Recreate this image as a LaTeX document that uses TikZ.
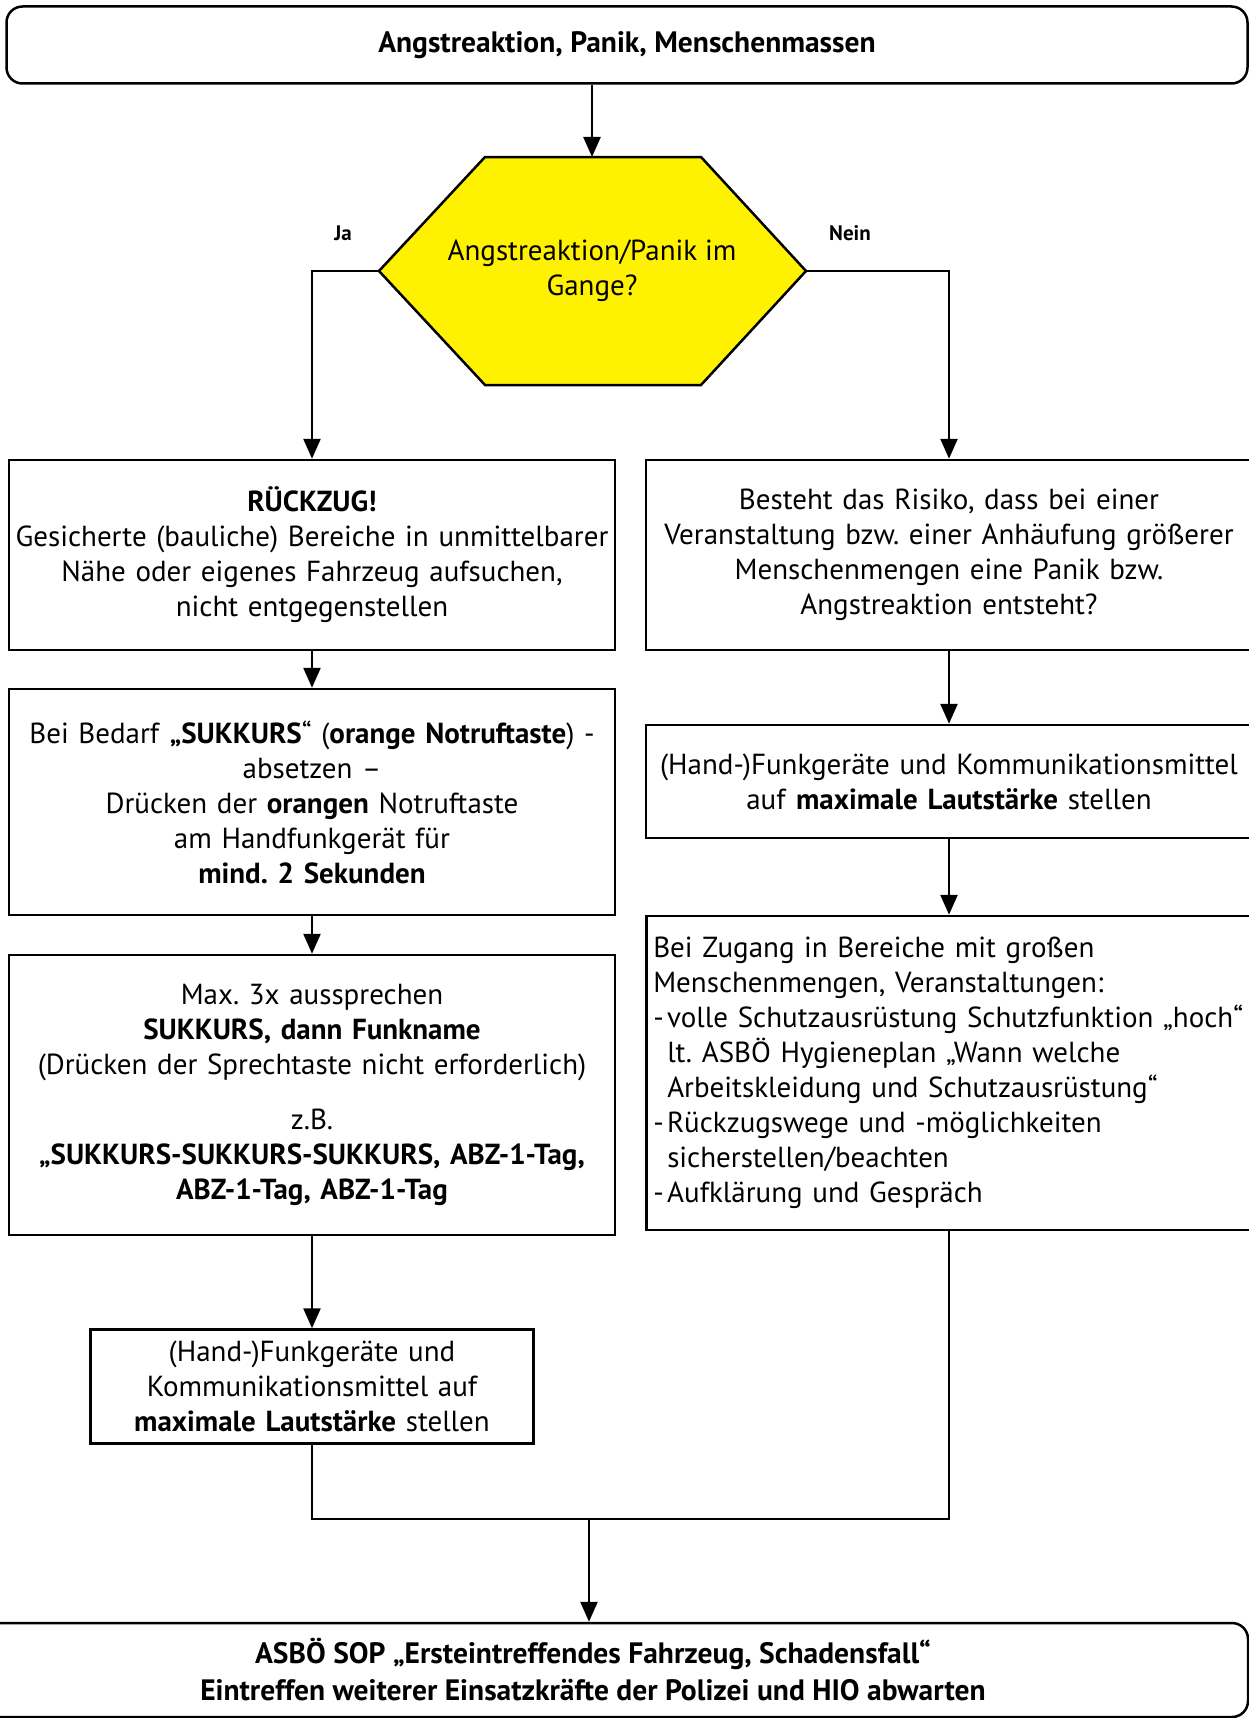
\documentclass[tikz,border=0pt]{standalone}
\usepackage{fontspec}
\setmainfont{PT Sans}
\usetikzlibrary{arrows.meta}
\frenchspacing
\begin{document}
\begin{tikzpicture}[x=1pt,y=-1pt]
\tikzset{
  frame/.style={draw, line width=2.5pt},
  bodytext/.style={font=\fontsize{29}{35}\selectfont},
  headtext/.style={font=\fontsize{29.5}{37}\selectfont\bfseries},
  stepbox/.style={frame, bodytext, rectangle, minimum width=606pt, text width=600pt,
    inner xsep=3pt, inner ysep=0pt, align=center},
  endbox/.style={frame, headtext, rectangle, rounded corners=16pt, inner sep=0pt},
  conn/.style={line width=2.5pt},
  arr/.style={conn, -{Triangle[length=20pt,width=17pt]}},
  branch/.style={font=\fontsize{21}{24}\selectfont\bfseries}
}
\useasboundingbox (0,0) rectangle (1249,1718);

% start
\node[endbox, minimum width=1241pt, minimum height=77pt] (top) at (627,45)
  {Angstreaktion, Panik, Menschenmassen};

% decision hexagon
\coordinate (hexT) at (592,157);
\coordinate (hexL) at (379,271);
\coordinate (hexR) at (806,271);
\filldraw[frame, fill=yellow] (485,157) -- (701,157) -- (hexR) -- (701,385)
  -- (485,385) -- (hexL) -- cycle;
\node[bodytext, align=center] (hex) at (592,271) {Angstreaktion/Panik im\\Gange?};
\node[branch] (ja) at (343,233) {Ja};
\node[branch] (nein) at (850,233) {Nein};

% left branch
\node[stepbox, minimum height=190pt] (l1) at (312,555)
  {\textbf{RÜCKZUG!}\\Gesicherte (bauliche) Bereiche in unmittelbarer\\Nähe oder eigenes Fahrzeug aufsuchen,\\nicht entgegenstellen};
\node[stepbox, minimum height=226pt] (l2) at (312,802)
  {Bei Bedarf \textbf{„SUKKURS}“ (\textbf{orange Notruftaste}) -\\absetzen –\\Drücken der \textbf{orangen} Notruftaste\\am Handfunkgerät für\\\textbf{mind. 2 Sekunden}};
\node[stepbox, minimum height=280pt] (l3) at (312,1095)
  {Max. 3x aussprechen\\\textbf{SUKKURS, dann Funkname}\\(Drücken der Sprechtaste nicht erforderlich)\\[20pt]z.B.\\\textbf{„SUKKURS-SUKKURS-SUKKURS, ABZ-1-Tag,}\\\textbf{ABZ-1-Tag, ABZ-1-Tag}};
\node[stepbox, minimum width=443pt, text width=437pt, minimum height=114pt] (l4) at (312,1386.5)
  {(Hand-)Funkgeräte und\\Kommunikationsmittel auf\\\textbf{maximale Lautstärke} stellen};

% right branch
\node[stepbox, minimum height=190pt] (r1) at (949,555)
  {Besteht das Risiko, dass bei einer\\Veranstaltung bzw. einer Anhäufung größerer\\Menschenmengen eine Panik bzw.\\Angstreaktion entsteht?};
\node[stepbox, minimum height=113pt] (r2) at (949,781.5)
  {(Hand-)Funkgeräte und Kommunikationsmittel\\auf \textbf{maximale Lautstärke} stellen};
\node[frame, bodytext, rectangle, anchor=west, text width=604pt, inner xsep=7pt,
  inner ysep=0pt, minimum height=314pt, align=left] (r3) at (645,1073)
  {Bei Zugang in Bereiche mit großen\\
   Menschenmengen, Veranstaltungen:\\
   \makebox[14pt][l]{-}volle Schutzausrüstung Schutzfunktion „hoch“\\
   \hspace*{14pt}lt. ASBÖ Hygieneplan „Wann welche\\
   \hspace*{14pt}Arbeitskleidung und Schutzausrüstung“\\
   \makebox[14pt][l]{-}Rückzugswege und -möglichkeiten\\
   \hspace*{14pt}sicherstellen/beachten\\
   \makebox[14pt][l]{-}Aufklärung und Gespräch};

% end
\node[endbox, minimum width=1310pt, minimum height=94pt, align=center] (bot) at (593,1670)
  {ASBÖ SOP „Ersteintreffendes Fahrzeug, Schadensfall“\\Eintreffen weiterer Einsatzkräfte der Polizei und HIO abwarten};

% connectors
\draw[arr] (top.south -| hexT) -- (hexT);
\draw[arr] (hexL) -| (l1.north);
\draw[arr] (hexR) -| (r1.north);
\draw[arr] (l1.south) -- (l2.north);
\draw[arr] (l2.south) -- (l3.north);
\draw[arr] (l3.south) -- (l4.north);
\draw[arr] (r1.south) -- (r2.north);
\draw[arr] (r2.south) -- (r2.south |- r3.north);
\coordinate (join) at (589,1519);
\draw[conn] (l4.south) |- (join) -| (r2.south |- r3.south);
\draw[arr] (join) -- (join |- bot.north);
\end{tikzpicture}
\end{document}
